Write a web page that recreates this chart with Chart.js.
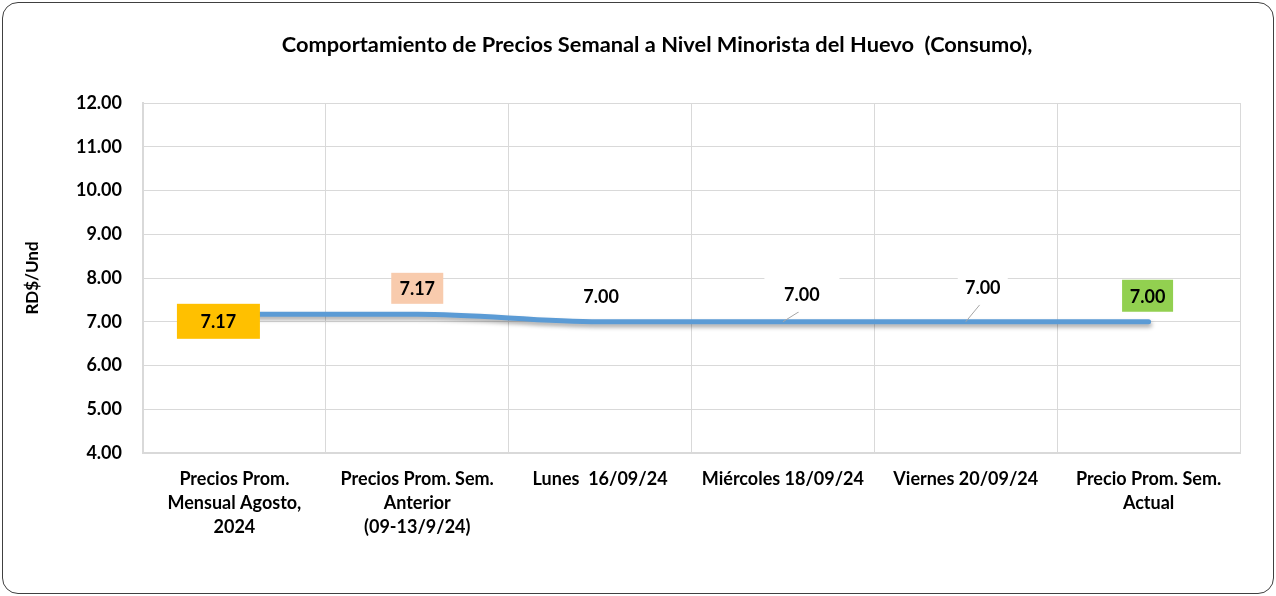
<!DOCTYPE html>
<html>
<head>
<meta charset="utf-8">
<script src="https://cdn.jsdelivr.net/npm/chart.js@4.4.1/dist/chart.umd.min.js"></script>
<style>
  html, body { margin: 0; padding: 0; background: #fff; }
  #frame {
    position: absolute; left: 2px; top: 2px;
    width: 1272px; height: 592px;
    box-sizing: border-box;
    border: 1px solid #404040; border-radius: 16px;
    overflow: hidden; background: #fff;
  }
  canvas { display: block; }
</style>
</head>
<body>
<div id="frame"><canvas id="chart" width="1270" height="590"></canvas></div>
<script>
// data
var chartTitle = 'Comportamiento de Precios Semanal a Nivel Minorista del Huevo  (Consumo),';
var yAxisLabel = 'RD$/Und';
var categories = [
    ['Precios Prom.', 'Mensual Agosto,', '2024'],
    ['Precios Prom. Sem.', 'Anterior', '(09-13/9/24)'],
    'Lunes  16/09/24',
    'Miércoles 18/09/24',
    'Viernes 20/09/24',
    ['Precio Prom. Sem.', 'Actual']
];
var precios = [7.17, 7.17, 7.00, 7.00, 7.00, 7.00];
var yMin = 4, yMax = 12, yStep = 1;

var FONT = 'Lato, "Open Sans", sans-serif';

// per-point label boxes (offsets from the point, in px)
var labelStyles = [
    { dx: -16, dy: 7,   w: 83, h: 35, bg: '#FFC000' },
    { dx: 0,   dy: -26, w: 52, h: 31, bg: '#F8CBAD' },
    { dx: 1,   dy: -26, w: 50, h: 30, bg: '#FFFFFF' },
    { dx: 19,  dy: -28, w: 75, h: 36, bg: '#FFFFFF', leader: true },
    { dx: 17,  dy: -35, w: 50, h: 36, bg: '#FFFFFF', leader: true },
    { dx: -1,  dy: -26, w: 51, h: 32, bg: '#92D050' }
];

var lineShadow = {
    id: 'lineShadow',
    beforeDatasetDraw: function (chart) {
        var ctx = chart.ctx;
        ctx.save();
        ctx.shadowColor = 'rgba(0,0,0,0.35)';
        ctx.shadowBlur = 4;
        ctx.shadowOffsetX = 1;
        ctx.shadowOffsetY = 3;
    },
    afterDatasetDraw: function (chart) {
        chart.ctx.restore();
    }
};

var pointLabels = {
    id: 'pointLabels',
    afterDatasetsDraw: function (chart) {
        var ctx = chart.ctx;
        var meta = chart.getDatasetMeta(0);
        var values = chart.data.datasets[0].data;
        ctx.save();
        meta.data.forEach(function (pt, i) {
            var s = labelStyles[i];
            var cx = pt.x + s.dx, cy = pt.y + s.dy;
            if (s.leader) {
                ctx.strokeStyle = '#a6a6a6';
                ctx.lineWidth = 1;
                ctx.beginPath();
                ctx.moveTo(pt.x, pt.y);
                ctx.lineTo(cx - 3, cy + s.h / 2);
                ctx.stroke();
            }
            ctx.fillStyle = s.bg;
            ctx.fillRect(cx - s.w / 2, cy - s.h / 2, s.w, s.h);
            ctx.fillStyle = '#000';
            ctx.font = 'bold 18px ' + FONT;
            ctx.textAlign = 'center';
            ctx.textBaseline = 'middle';
            ctx.fillText(values[i].toFixed(2), cx, cy + 1);
        });
        ctx.restore();
    }
};

var titleText = {
    id: 'titleText',
    afterDraw: function (chart) {
        var ctx = chart.ctx;
        ctx.save();
        ctx.fillStyle = '#000';
        ctx.font = 'bold 21.8px ' + FONT;
        ctx.textAlign = 'center';
        ctx.textBaseline = 'middle';
        ctx.fillText(chartTitle, 654, 42);
        ctx.restore();
    }
};

new Chart(document.getElementById('chart').getContext('2d'), {
    type: 'line',
    data: {
        labels: categories,
        datasets: [{
            data: precios,
            borderColor: '#5B9BD5',
            borderWidth: 5,
            borderCapStyle: 'round',
            pointRadius: 0,
            cubicInterpolationMode: 'monotone',
            fill: false
        }]
    },
    options: {
        responsive: false,
        animation: false,
        layout: { padding: { top: 100, right: 33, left: 0, bottom: 0 } },
        plugins: {
            legend: { display: false },
            title: { display: false },
            tooltip: { enabled: false }
        },
        scales: {
            x: {
                offset: true,
                grid: { offset: true, color: '#d9d9d9', lineWidth: 1, drawTicks: false },
                border: { color: '#d9d9d9', width: 2 },
                ticks: {
                    color: '#000',
                    padding: 14,
                    maxRotation: 0,
                    autoSkip: false,
                    font: { family: FONT, size: 18, weight: 'bold', lineHeight: 1.333 }
                },
                afterFit: function (scale) { scale.height = 140; }
            },
            y: {
                min: yMin,
                max: yMax,
                grid: { color: '#d9d9d9', lineWidth: 1, drawTicks: false },
                border: { color: '#d9d9d9', width: 2 },
                ticks: {
                    stepSize: yStep,
                    color: '#000',
                    padding: 21,
                    font: { family: FONT, size: 18, weight: 'bold' },
                    callback: function (v) { return v.toFixed(2); }
                },
                title: {
                    display: true,
                    text: yAxisLabel,
                    color: '#000',
                    padding: { top: 19, bottom: 0 },
                    font: { family: FONT, size: 17, weight: 'bold' }
                },
                afterFit: function (scale) { scale.width = 140; }
            }
        }
    },
    plugins: [lineShadow, pointLabels, titleText]
});
</script>
</body>
</html>
